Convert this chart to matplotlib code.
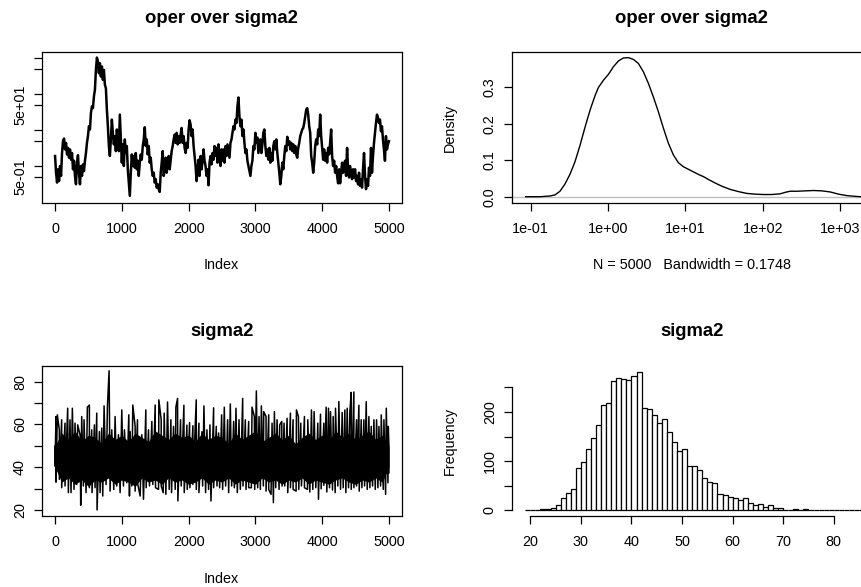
import numpy as np
import matplotlib
matplotlib.use('Agg')
import matplotlib.pyplot as plt

plt.rcParams['font.family'] = ['Liberation Sans', 'DejaVu Sans']

# trace of oper/sigma2 (every ~15 iterations)
oper_trace = [1.9, 0.65, 0.345, 0.81, 0.38, 1.0, 0.53, 2.3, 5.0, 5.8, 2.9, 4.4, 2.1, 3.2, 1.7,
              2.9, 1.5, 2.3, 0.81, 1.4, 0.53, 0.31, 1.24, 2.0, 0.65, 0.31, 1.0, 0.53, 1.11, 0.72,
              1.4, 2.3, 4.4, 6.8, 12.8, 10.4, 30, 46, 41, 87, 133, 475, 1047, 810, 385,
              728, 310, 587, 251, 475, 183, 147, 37, 12.8, 3.6, 1.9, 5.5, 19.6, 8.4, 4.0,
              6.8, 2.6, 10.4, 4.4, 2.6, 27, 5.5, 1.24, 4.0, 1.0, 5.5, 2.3, 3.6, 0.81, 0.345,
              0.148, 0.65, 2.1, 1.0, 1.9, 0.9, 2.3, 0.81, 1.4, 0.53, 1.24, 2.1, 1.5, 3.6, 5.5,
              12.0, 3.6, 5.5, 2.1, 3.6, 1.24, 1.7, 0.81, 0.53, 0.65, 0.345, 0.43, 0.25, 0.31, 0.226,
              0.19, 0.65, 1.24, 2.6, 0.53, 0.81, 1.7, 0.65, 1.24, 1.9, 0.81, 1.5, 2.6, 3.6, 5.5,
              7.5, 4.4, 8.4, 4.0, 6.8, 4.4, 7.5, 11.5, 4.4, 6.8, 3.2, 2.3, 4.4, 3.2, 10.4,
              18.8, 14.2, 6.8, 10.4, 3.6, 1.9, 1.0, 0.38, 0.81, 1.5, 0.53, 1.9, 0.81, 1.4, 2.9,
              1.4, 1.0, 0.53, 0.81, 0.29, 1.24, 1.9, 1.11, 2.3, 1.5, 3.6, 1.9, 3.2, 1.24, 4.0,
              1.9, 1.0, 2.9, 1.4, 2.9, 1.24, 3.6, 1.9, 4.0, 2.6, 1.7, 4.4, 5.5, 8.4, 12.8,
              10.4, 19.6, 15.8, 46, 81, 24, 12.8, 19.6, 6.8, 10.4, 4.4, 2.3, 2.9, 1.4, 1.0,
              0.72, 0.53, 1.0, 1.4, 3.6, 2.9, 8.4, 4.4, 6.2, 2.3, 3.6, 5.5, 2.3, 4.0, 8.4,
              10.4, 3.6, 1.9, 2.9, 1.5, 3.2, 1.24, 2.3, 1.4, 3.6, 4.9, 2.9, 5.5, 2.3, 1.24,
              0.65, 0.31, 0.53, 1.24, 0.81, 1.9, 3.6, 2.6, 6.5, 4.0, 4.9, 2.9, 4.4, 2.6, 4.0,
              2.3, 3.6, 2.1, 1.7, 3.2, 4.4, 6.8, 8.4, 10.4, 11.5, 15.8, 24, 37, 41, 27,
              12.8, 8.4, 1.9, 1.24, 0.65, 1.24, 3.6, 5.5, 4.0, 10.4, 6.8, 27, 6.8, 3.2, 1.5,
              2.9, 1.4, 2.3, 1.24, 3.2, 2.1, 4.4, 10.4, 1.9, 1.0, 1.4, 0.65, 1.0, 0.53, 0.33,
              0.81, 0.33, 0.65, 1.24, 0.65, 1.0, 1.4, 0.53, 3.2, 0.81, 0.48, 1.0, 0.65, 0.43, 0.81,
              0.48, 0.81, 0.38, 0.53, 0.31, 0.65, 0.28, 0.43, 0.25, 0.81, 2.3, 0.53, 0.226, 0.43, 0.28,
              0.9, 0.53, 3.2, 0.65, 1.9, 4.4, 8.4, 15.8, 27, 22, 15.8, 19.6, 9.3, 12.8, 5.5,
              2.9, 1.4, 6.8, 2.9, 4.0, 4.9]

# trace of sigma2: spike tops and bottoms with their iteration
sigma2_hi_idx = [0, 15, 35, 65, 100, 150, 190, 225, 260, 300, 340, 375, 400, 435, 485, 515, 550, 590,
                 625, 665, 700, 735, 785, 810, 850, 900, 950, 1000, 1040, 1105, 1125, 1165, 1200, 1235,
                 1300, 1360, 1400, 1450, 1500, 1555, 1590, 1635, 1685, 1735, 1775, 1810, 1835, 1880,
                 1930, 1975, 2015, 2065, 2115, 2155, 2200, 2230, 2275, 2320, 2375, 2415, 2450, 2495,
                 2535, 2585, 2625, 2675, 2710, 2755, 2810, 2850, 2900, 2950, 2985, 3015, 3055, 3090,
                 3125, 3160, 3200, 3250, 3285, 3325, 3365, 3395, 3430, 3475, 3525, 3565, 3615, 3645,
                 3680, 3735, 3785, 3840, 3880, 3935, 3975, 4025, 4060, 4095, 4125, 4165, 4200, 4250,
                 4300, 4340, 4375, 4415, 4435, 4475, 4515, 4550, 4585, 4625, 4660, 4700, 4735, 4775,
                 4815, 4850, 4885, 4925, 4960, 4990, 5000]
sigma2_hi = [49.8, 63.7, 64.5, 57.5, 62.2, 60.6, 67.6, 62.2, 67.6, 60.6, 59.8, 55.2, 63.7, 62.2, 68.1,
             69.1, 57.5, 59.8, 65.3, 56.7, 58.3, 68.7, 68.4, 85.1, 57.5, 63.7, 55.2, 66.8, 57.5, 64.5,
             56.7, 69.1, 59.1, 62.2, 55.2, 66.8, 57.5, 61.4, 69.1, 71.5, 62.2, 65.3, 70.5, 62.2, 59.1,
             68.1, 72.2, 62.2, 69.0, 59.7, 60.9, 59.4, 71.5, 60.6, 56.6, 68.7, 57.5, 59.8, 67.8, 59.1,
             56.0, 64.5, 68.1, 62.2, 69.6, 61.4, 67.6, 62.2, 72.2, 62.2, 61.4, 68.1, 63.7, 75.7, 63.7,
             68.7, 66.0, 63.7, 64.5, 60.6, 66.0, 62.2, 59.8, 61.4, 60.6, 62.9, 65.3, 62.2, 66.8, 63.7,
             60.6, 63.7, 62.2, 66.8, 66.0, 60.6, 64.8, 60.6, 68.1, 67.6, 66.0, 63.7, 67.6, 70.7, 65.6,
             66.8, 67.6, 66.0, 75.0, 75.2, 62.2, 69.0, 62.2, 62.2, 70.7, 63.7, 59.1, 62.2, 62.2, 59.1,
             64.5, 62.2, 67.6, 59.1, 49.8]
sigma2_lo_idx = [0, 15, 65, 100, 150, 200, 240, 285, 325, 385, 425, 465, 515, 555, 600, 630, 675, 715,
                 765, 825, 880, 925, 975, 1025, 1075, 1115, 1150, 1200, 1235, 1275, 1325, 1365, 1415,
                 1465, 1505, 1550, 1590, 1620, 1660, 1710, 1745, 1800, 1840, 1890, 1935, 1980, 2020,
                 2065, 2115, 2155, 2210, 2255, 2300, 2335, 2375, 2425, 2465, 2510, 2555, 2600, 2645,
                 2685, 2730, 2775, 2815, 2860, 2900, 2940, 2990, 3035, 3075, 3120, 3160, 3200, 3235,
                 3270, 3305, 3355, 3400, 3440, 3485, 3525, 3565, 3610, 3650, 3690, 3735, 3780, 3815,
                 3860, 3905, 3945, 3985, 4025, 4070, 4110, 4155, 4195, 4235, 4275, 4315, 4355, 4395,
                 4435, 4475, 4515, 4555, 4595, 4635, 4675, 4715, 4755, 4795, 4835, 4875, 4915, 4950,
                 4985, 5000]
sigma2_lo = [40.5, 33.0, 34.3, 30.4, 31.2, 28.1, 28.1, 29.6, 31.9, 22.2, 31.2, 28.1, 30.4, 28.1, 30.4,
             20.0, 28.1, 26.5, 31.9, 28.8, 29.6, 31.2, 28.1, 31.2, 32.7, 26.5, 31.2, 28.8, 32.7, 26.5,
             25.0, 30.4, 31.2, 31.9, 30.4, 29.6, 31.2, 28.1, 27.3, 29.6, 28.1, 29.6, 24.2, 31.2, 28.1,
             29.6, 30.4, 31.9, 29.6, 28.1, 31.2, 28.1, 29.6, 24.2, 30.4, 31.2, 30.4, 29.6, 31.2, 28.1,
             31.2, 30.4, 28.1, 29.6, 31.2, 29.6, 30.4, 30.4, 29.6, 30.4, 29.6, 31.2, 28.8, 29.6, 27.3,
             23.4, 30.4, 29.6, 31.2, 31.2, 28.1, 30.4, 29.6, 28.8, 29.6, 31.2, 30.4, 29.6, 28.4, 29.6,
             30.4, 25.0, 29.9, 31.5, 28.4, 30.4, 29.3, 28.1, 31.2, 29.6, 30.4, 28.1, 30.4, 29.6, 30.4,
             31.2, 28.8, 30.4, 31.2, 29.6, 30.4, 31.2, 29.6, 30.4, 31.2, 29.6, 27.3, 32.7, 37.4]
# edges of the solid black part of the sigma2 trace, every 100 iterations
band_top = [50, 56, 53, 57, 52, 55, 54, 51, 56, 53,
            55, 52, 56, 54, 52, 57, 55, 53, 56, 54,
            55, 52, 56, 53, 55, 54, 51, 56, 53, 55,
            57, 52, 54, 56, 53, 55, 51, 54, 56, 53,
            55, 52, 57, 54, 56, 53, 55, 57, 53, 55, 50]
band_bot = [40, 33, 35, 32, 34, 31, 34, 33, 35, 32,
            34, 33, 31, 35, 33, 34, 32, 35, 33, 34,
            32, 33, 35, 32, 34, 33, 35, 32, 34, 33,
            32, 35, 33, 34, 32, 34, 33, 35, 32, 34,
            33, 32, 34, 35, 33, 32, 34, 33, 35, 33, 40]

# density of oper/sigma2 (x on log10 scale)
dens_log10x = [-1.065, -0.879, -0.750, -0.685, -0.621, -0.556, -0.491, -0.427, -0.362, -0.297,
               -0.233, -0.168, -0.125, -0.060, 0.004, 0.069, 0.134, 0.198, 0.263, 0.328,
               0.392, 0.457, 0.522, 0.586, 0.651, 0.716, 0.780, 0.845, 0.909, 0.974,
               1.039, 1.103, 1.168, 1.233, 1.297, 1.362, 1.427, 1.491, 1.578, 1.685,
               1.793, 1.901, 2.009, 2.116, 2.224, 2.289, 2.353, 2.440, 2.547, 2.655,
               2.763, 2.871, 2.978, 3.086, 3.194, 3.259]
dens_y = [0.0, 0.0, 0.002, 0.005, 0.015, 0.035, 0.062, 0.096, 0.141, 0.191,
          0.237, 0.277, 0.299, 0.319, 0.335, 0.356, 0.372, 0.380, 0.381, 0.376,
          0.365, 0.342, 0.310, 0.273, 0.232, 0.187, 0.146, 0.114, 0.093, 0.082,
          0.075, 0.068, 0.061, 0.055, 0.047, 0.040, 0.033, 0.027, 0.020, 0.014,
          0.009, 0.007, 0.006, 0.006, 0.008, 0.012, 0.015, 0.015, 0.016, 0.017,
          0.016, 0.013, 0.007, 0.003, 0.001, 0.0]

# histogram of sigma2, unit bins starting at 19
hist_start = 19
hist_counts = [1, 0, 1, 2, 3, 5, 11, 24, 35, 43, 85, 98, 125, 147, 173, 214, 219, 262, 270, 267,
               265, 273, 282, 209, 206, 193, 178, 186, 159, 139, 120, 124, 90, 90, 82, 66, 57, 56,
               33, 32, 28, 26, 20, 24, 14, 11, 13, 7, 10, 5, 4, 1, 1, 3, 1, 3, 1, 0, 0, 0, 0,
               1, 0, 1, 0, 1, 0]

W, H = 861, 587


def box(l, t, r, b):
    return [l / W, 1 - b / H, (r - l) / W, (b - t) / H]


def px(x, y):
    return x / W, 1 - y / H


fs = 10.4
lw = 0.9
fig = plt.figure(figsize=(W / 100, H / 100), dpi=100)


def style(ax):
    for s in ax.spines.values():
        s.set_linewidth(lw)
    ax.tick_params(direction='out', length=6.1, width=lw, labelsize=fs)
    ax.tick_params(axis='x', pad=7.6)
    ax.tick_params(axis='y', pad=4.5, labelrotation=90)
    for t in ax.get_yticklabels():
        t.set_va('center')
    ax.minorticks_off()


# top left: trace on log scale
ax1 = fig.add_axes(box(41.7, 52.3, 402.3, 202.7))
ax1.plot(np.linspace(1, 5000, len(oper_trace)), oper_trace, color='black', lw=1.8)
ax1.set_yscale('log')
ax1.set_xlim(-199, 5200)
ax1.set_ylim(10 ** -1.022, 10 ** 3.167)
ax1.set_xticks([0, 1000, 2000, 3000, 4000, 5000])
ax1.set_yticks([0.5, 1, 5, 10, 50, 100, 500, 1000])
ax1.set_yticklabels(['5e-01', '', '', '', '5e+01', '', '', ''])
style(ax1)

# top right: density
ax2 = fig.add_axes(box(511.7, 52.3, 871.7, 202.7))
ax2.axhline(0, color='#BEBEBE', lw=1.0)
ax2.plot(10 ** np.array(dens_log10x), dens_y, color='black', lw=1.0)
ax2.set_xscale('log')
ax2.set_xlim(10 ** -1.245, 10 ** 3.406)
ax2.set_ylim(-0.0164, 0.3956)
ax2.set_xticks([0.1, 1, 10, 100, 1000])
ax2.set_xticklabels(['1e-01', '1e+00', '1e+01', '1e+02', '1e+03'])
ax2.set_yticks([0, 0.1, 0.2, 0.3])
ax2.set_yticklabels(['0.0', '0.1', '0.2', '0.3'])
style(ax2)

# bottom left: sigma2 trace
pts = sorted(list(zip(sigma2_hi_idx, sigma2_hi)) + list(zip(sigma2_lo_idx, sigma2_lo)),
             key=lambda p: p[0])
band_idx = np.linspace(0, 5000, len(band_top))
ax3 = fig.add_axes(box(41.7, 365.7, 402.3, 515.7))
ax3.fill_between(band_idx, band_bot, band_top, color='black', lw=0)
ax3.plot([p[0] for p in pts], [p[1] for p in pts], color='black', lw=1.1)
ax3.set_xlim(-199, 5200)
ax3.set_ylim(17.3, 87.5)
ax3.set_xticks([0, 1000, 2000, 3000, 4000, 5000])
ax3.set_yticks([20, 30, 40, 50, 60, 70, 80])
ax3.set_yticklabels(['20', '', '40', '', '60', '', '80'])
style(ax3)

# bottom right: histogram
edges = hist_start + np.arange(len(hist_counts))
ax4 = fig.add_axes(box(511.7, 365.7, 871.7, 515.7))
ax4.bar(edges, hist_counts, width=1, align='edge', facecolor='white',
        edgecolor='black', lw=lw)
ax4.set_xlim(16.32, 87.5)
ax4.set_ylim(-11, 294)
ax4.set_xticks([20, 30, 40, 50, 60, 70, 80])
ax4.set_yticks([0, 50, 100, 150, 200, 250])
ax4.set_yticklabels(['0', '', '100', '', '200', ''])
ax4.spines['top'].set_visible(False)
ax4.spines['right'].set_visible(False)
ax4.spines['left'].set_bounds(0, 250)
ax4.spines['bottom'].set_bounds(20, 80)
style(ax4)

# titles and axis labels
tkw = dict(fontsize=13.3, fontweight='bold', ha='center', va='baseline')
fig.text(*px(221.7, 22.7), 'oper over sigma2', **tkw)
fig.text(*px(691.7, 22.7), 'oper over sigma2', **tkw)
fig.text(*px(221.7, 335.7), 'sigma2', **tkw)
fig.text(*px(691.7, 335.7), 'sigma2', **tkw)

lkw = dict(fontsize=fs, ha='center', va='center')
fig.text(*px(221.7, 265), 'Index', **lkw)
fig.text(*px(221.7, 579), 'Index', **lkw)
fig.text(*px(692, 265), 'N = 5000   Bandwidth = 0.1748', **lkw)
fig.text(*px(450, 127.5), 'Density', rotation=90, **lkw)
fig.text(*px(450, 440.7), 'Frequency', rotation=90, **lkw)

fig.savefig('out.png', dpi=100)
